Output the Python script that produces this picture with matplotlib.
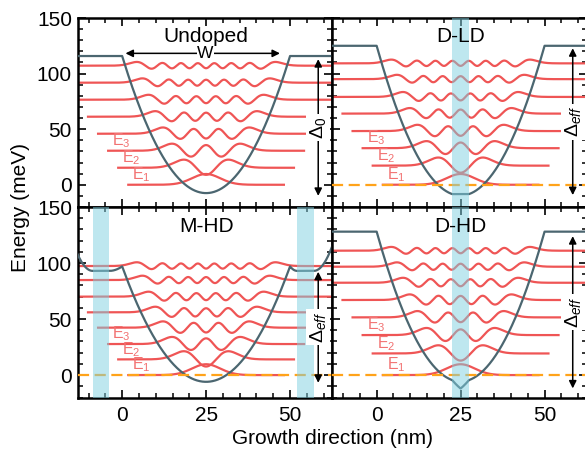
import numpy as np
import matplotlib.pyplot as plt
from math import factorial, pi, sqrt
from numpy.polynomial import hermite

plt.rcParams['font.family'] = ['Liberation Sans', 'DejaVu Sans']
plt.rcParams['mathtext.fontset'] = 'custom'
plt.rcParams['mathtext.rm'] = 'Liberation Sans'
plt.rcParams['mathtext.it'] = 'Liberation Sans:italic'

# panel names and energy levels (meV)
panel_names = ['Undoped', 'D-LD', 'M-HD', 'D-HD']
undoped_levels = [0, 15.3, 30.6, 45.9, 61.2, 76.5, 91.8, 107.1]
dld_levels = [0, 17.2, 32.9, 48.3, 64.0, 79.0, 95.0, 109.2]
mhd_levels = [0, 14.0, 27.7, 42.3, 56.0, 70.0, 84.8, 97.3]
dhd_levels = [0, 19.3, 35.7, 51.5, 67.0, 82.4, 96.7, 111.0]

# potential profile values (meV)
well_bottom = [-7.5, -8.4, -6.0, -12.0]
well_top = [115.8, 125.0, 97.0, 128.0]
dhd_parabola_min = -5.8
mhd_barrier_min = 93.0
mhd_barrier_edge = 108.0

# doped regions (nm)
doped_bands = [[], [(22.5, 27.5)], [(-8.8, -3.8), (52.1, 57.1)], [(22.5, 27.5)]]

# gap arrows (meV)
gap_lo = [-10.0, -9.3, -6.9, -11.9]
gap_hi = [113.0, 122.8, 92.2, 124.0]
gap_labels = [r'$\Delta_0$', r'$\Delta_{eff}$', r'$\Delta_{eff}$', r'$\Delta_{eff}$']

level_sets = [undoped_levels, dld_levels, mhd_levels, dhd_levels]

red = '#ef5555'
slate = '#4b6670'
band_col = '#7fd0e0'
orange = '#ffa31a'

xc = 25.0      # well centre
half = 25.0    # well half width
L = 4.2        # wavefunction length scale
amp = 12.9
fs = 15


def psi(n, xi):
    c = np.zeros(n + 1)
    c[n] = 1
    norm = 1.0 / sqrt(2.0**n * factorial(n) * sqrt(pi))
    return norm * hermite.hermval(xi, c) * np.exp(-xi**2 / 2)


def potential(i, x):
    d = x - xc
    if i == 0:
        v = well_bottom[0] + (well_top[0] - well_bottom[0]) * (d / half)**2
        return np.where(np.abs(d) > half, well_top[0], v)
    if i == 1:
        b = (well_top[1] - well_bottom[1]) / (half**2 - 2.5**2)
        a = well_bottom[1] - b * 2.5**2
        v = np.maximum(a + b * d**2, well_bottom[1])
        return np.where(np.abs(d) > half, well_top[1], v)
    if i == 3:
        v = dhd_parabola_min + (well_top[3] - dhd_parabola_min) * (d / half)**2
        dip = (dhd_parabola_min - well_bottom[3]) * np.clip(1 - np.abs(d) / 2.5, 0, None)
        v = v - dip
        return np.where(np.abs(d) > half, well_top[3], v)
    # M-HD: parabolic well with band bending in the barriers
    v = well_bottom[2] + (well_top[2] - well_bottom[2]) * (d / half)**2
    (l0, l1), (r0, r1) = doped_bands[2]
    c_out = (mhd_barrier_edge - mhd_barrier_min) / (l0 + 13.3)**2
    out = np.empty_like(x)
    for j, xx in enumerate(x):
        if xx < l0:
            out[j] = mhd_barrier_min + c_out * (l0 - xx)**2
        elif xx <= l1:
            out[j] = mhd_barrier_min
        elif xx < 0:
            out[j] = mhd_barrier_min + (well_top[2] - mhd_barrier_min) * ((xx - l1) / (0 - l1))**2
        elif xx <= 50:
            out[j] = v[j]
        elif xx < r0:
            out[j] = mhd_barrier_min + (well_top[2] - mhd_barrier_min) * ((r0 - xx) / (r0 - 50))**2
        elif xx <= r1:
            out[j] = mhd_barrier_min
        else:
            out[j] = mhd_barrier_min + c_out * (xx - r1)**2
    return out


fig = plt.figure(figsize=(5.85, 4.53), dpi=100)
W, H = 585.0, 453.0
boxes = [
    (77.5, 18, 254.5, 189),
    (332, 18, 254.5, 189),
    (77.5, 207, 254.5, 190.5),
    (332, 207, 254.5, 190.5),
]

x = np.linspace(-13.3, 62.5, 1500)

for i, (bx, by, bw, bh) in enumerate(boxes):
    ax = fig.add_axes([bx / W, 1 - (by + bh) / H, bw / W, bh / H])
    ax.set_xlim(-13.3, 62.5)
    ax.set_ylim(-20, 150)

    levels = level_sets[i]
    for k, e in enumerate(levels):
        hw = 23.5 + 3.0 * k
        xs = np.linspace(xc - hw, xc + hw, 1200)
        ys = e + amp * (1 - 0.07 * k) * psi(2 * k, (xs - xc) / L)
        ax.plot(xs, ys, color=red, lw=1.6, zorder=2, solid_capstyle='butt')
        if k < 3:
            ax.text(xc - hw + 1.5, e + 0.8, r'E$_{%d}$' % (k + 1), color='#f27272',
                    fontsize=11.5, ha='left', va='bottom', zorder=6)

    ax.plot(x, potential(i, x), color=slate, lw=1.6, zorder=3)

    if i > 0:
        ax.axhline(0, color=orange, lw=1.6, ls=(0, (5, 2.5)), zorder=4)

    for lo, hi in doped_bands[i]:
        ax.axvspan(lo, hi, color=band_col, alpha=0.5, lw=0, zorder=5)

    ax.annotate('', xy=(58.4, gap_hi[i]), xytext=(58.4, gap_lo[i]),
                arrowprops=dict(arrowstyle='<|-|>', color='k', lw=1.1,
                                mutation_scale=11, shrinkA=0, shrinkB=0), zorder=6)
    ax.text(58.4, (gap_lo[i] + gap_hi[i]) / 2, gap_labels[i], rotation=90,
            fontsize=14, ha='center', va='center', zorder=7,
            bbox=dict(fc='white', ec='none', pad=1.5))

    ax.text(25, 133, panel_names[i], fontsize=fs, ha='center', va='center', zorder=7)

    if i == 0:
        ax.annotate('', xy=(1.0, 118.2), xytext=(47.0, 118.2),
                    arrowprops=dict(arrowstyle='<|-|>', color='k', lw=1.1,
                                    mutation_scale=11, shrinkA=0, shrinkB=0), zorder=6)
        ax.text(24.8, 118.2, 'W', fontsize=12.5, ha='center', va='center', zorder=7,
                bbox=dict(fc='white', ec='none', pad=0.5))

    ax.set_xticks([0, 25, 50])
    ax.set_xticks(np.arange(-10, 63, 5), minor=True)
    ax.set_yticks([0, 50, 100, 150])
    ax.set_yticks(np.arange(-20, 151, 10), minor=True)
    ax.tick_params(which='both', direction='in', top=True, right=True, labelsize=fs)
    ax.tick_params(which='major', length=6, width=1.2, pad=4)
    ax.tick_params(which='minor', length=3.5, width=1.1)
    ax.tick_params(axis='x', which='major', pad=6)
    for s in ax.spines.values():
        s.set_linewidth(1.8)
    if i < 2:
        ax.tick_params(labelbottom=False)
    if i % 2 == 1:
        ax.tick_params(labelleft=False)

fig.text(332 / W, 1 - 438 / H, 'Growth direction (nm)', fontsize=fs, ha='center', va='center')
fig.text(20 / W, 1 - 207 / H, 'Energy (meV)', fontsize=fs, ha='center', va='center', rotation=90)

fig.savefig('out.png', dpi=100)
